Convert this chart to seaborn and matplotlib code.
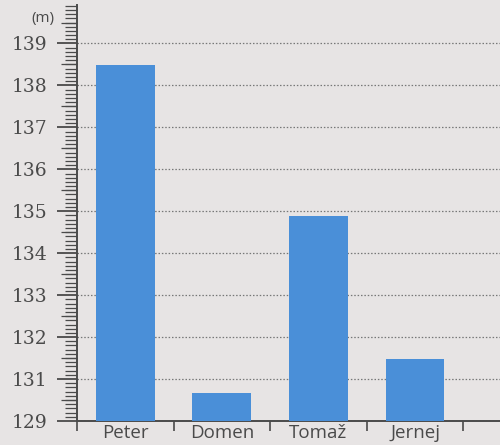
import matplotlib.pyplot as plt
import matplotlib.ticker as mticker
import pandas as pd
import seaborn as sns

# Data
names = ['Peter', 'Domen', 'Tomaž', 'Jernej']
heights = [138.48, 130.66, 134.88, 131.48]
ytick_pos = [130, 131, 132, 133, 134, 135, 136, 137, 138, 139]
ytick_labels = ['129', '131', '132', '133', '134', '135', '136', '137', '138', '139']
unit_label = '(m)'

df = pd.DataFrame({'name': names, 'height': heights})

sns.set_style('white')
bg = '#e7e4e4'
ink = '#4a4a4a'
plt.rcParams['font.family'] = ['DejaVu Serif']

fig = plt.figure(figsize=(5, 4.45), dpi=100, facecolor=bg)
ax = fig.add_axes([0.154, 0.054, 0.846, 0.935], facecolor=bg)

sns.barplot(data=df, x='name', y='height', color='#4a8fd8', saturation=1,
            width=0.61, linewidth=0, ax=ax, zorder=3)
# bars start at the axis bottom
for p in ax.patches:
    p.set_y(130)
    p.set_height(p.get_height() - 130)

ax.set_ylim(130, 139.92)
ax.set_xlim(-0.5, 3.88)
ax.set_xlabel('')
ax.set_ylabel('')

# y axis ticks
ax.set_yticks(ytick_pos)
ax.set_yticklabels(ytick_labels, fontsize=13.5, color=ink)
ax.yaxis.set_minor_locator(mticker.MultipleLocator(0.1))
ax.tick_params(axis='y', which='major', left=True, direction='out', length=14.5,
               width=1.3, color=ink, pad=7)
ax.tick_params(axis='y', which='minor', left=True, direction='out', length=9,
               width=0.9, color=ink)
sec = ax.secondary_yaxis('left')
sec.set_yticks([v + 0.5 for v in ytick_pos])
sec.tick_params(left=True, direction='out', length=11.5, width=0.9, color=ink,
                labelleft=False)
sec.spines['left'].set_visible(False)

# x axis: names centred, separators as ticks
ax.set_xticks(range(len(names)))
ax.set_xticklabels(names, fontsize=13.5, color=ink, family='Open Sans')
ax.tick_params(axis='x', which='major', length=0, pad=2)
ax.set_xticks([-0.5, 0.5, 1.5, 2.5, 3.5], minor=True)
ax.tick_params(axis='x', which='minor', bottom=True, direction='out', length=7,
               width=1.2, color=ink)

# dotted grid
ax.grid(axis='y', which='major', linestyle=(0, (1.2, 1.5)), color='#777777',
        linewidth=0.9, zorder=1)
ax.set_axisbelow(True)

for s in ['top', 'right']:
    ax.spines[s].set_visible(False)
for s in ['left', 'bottom']:
    ax.spines[s].set_color(ink)
    ax.spines[s].set_linewidth(1.4)

fig.text(0.085, 0.958, unit_label, fontsize=11, color=ink, family='Open Sans',
         ha='center', va='center')

fig.savefig('out.png', dpi=100, facecolor=bg)
